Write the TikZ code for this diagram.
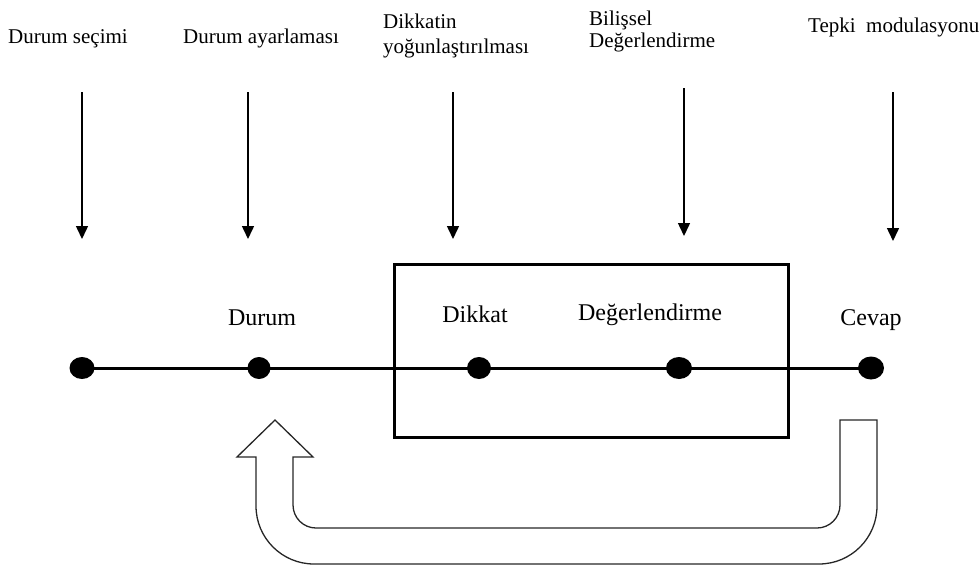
\documentclass[tikz,border=0pt]{standalone}
\usepackage{fontspec}
\setmainfont{Liberation Serif}
\usetikzlibrary{arrows.meta,shapes.geometric,backgrounds}

\tikzset{
  toplabel/.style={inner sep=0pt, font=\fontsize{21}{25}\selectfont, align=left},
  stagelabel/.style={inner sep=0pt, font=\fontsize{24}{28}\selectfont},
  dot/.style={ellipse, fill=black, inner sep=0pt, minimum width=25pt, minimum height=22pt},
  feed/.style={-{Triangle[width=12pt,length=13pt]}, line width=1.5pt},
  axis/.style={line width=3pt},
  frame/.style={line width=3.2pt},
  bigarrow/.style={line width=1.3pt, draw=black!85, line join=miter}
}

\begin{document}
\begin{tikzpicture}[x=1pt, y=-1pt]
  \useasboundingbox (0,0) rectangle (979,565);

  % strategy labels along the top
  \node[toplabel, anchor=base west] (l1) at (8,43) {Durum seçimi};
  \node[toplabel, anchor=base west] (l2) at (183,43) {Durum ayarlaması};
  \node[toplabel, anchor=base west] (l3a) at (383,28) {Dikkatin};
  \node[toplabel, anchor=base west] (l3b) at (383,53) {yoğunlaştırılması};
  \node[toplabel, anchor=base west] (l4a) at (589,25) {Bilişsel};
  \node[toplabel, anchor=base west] (l4b) at (589,47) {Değerlendirme};
  \node[toplabel, anchor=base west] (l5) at (808,32) {Tepki\ \ modulasyonu};

  % arrow ends
  \coordinate (a1s) at (82,92);  \coordinate (a1e) at (82,239);
  \coordinate (a2s) at (248,92); \coordinate (a2e) at (248,239);
  \coordinate (a3s) at (453,92); \coordinate (a3e) at (453,239);
  \coordinate (a4s) at (684,88); \coordinate (a4e) at (684,236);
  \coordinate (a5s) at (893,92); \coordinate (a5e) at (893,241);
  \foreach \i in {1,...,5} \draw[feed] (a\i s) -- (a\i e);

  % box around attention and appraisal
  \node[draw, frame, minimum width=394pt, minimum height=173pt, inner sep=0pt, anchor=north west] (box) at (393,263) {};

  % stage points on the timeline
  \node[dot] (d1) at (82,368) {};
  \node[dot, minimum width=23pt] (d2) at (259,368) {};
  \node[dot, minimum width=24pt] (d3) at (479,368) {};
  \node[dot, minimum width=26pt] (d4) at (679,368) {};
  \node[dot, minimum width=26pt, minimum height=23pt] (d5) at (871,368) {};
  \begin{scope}[on background layer]
    \draw[axis] (d1.center) -- (d5.center);
  \end{scope}

  % stage names
  \node[stagelabel, anchor=base] (s2) at (262,325) {Durum};
  \node[stagelabel, anchor=base] (s3) at (475,322) {Dikkat};
  \node[stagelabel, anchor=base] (s4) at (650,320) {Değerlendirme};
  \node[stagelabel, anchor=base] (s5) at (871,325) {Cevap};

  % feedback arrow from response back to situation
  \draw[bigarrow]
    (840,420) -- (877,420) -- (877,506)
    arc[start angle=0, end angle=90, radius=58] -- (314,564)
    arc[start angle=90, end angle=180, radius=58] -- (256,457)
    -- (237,457) -- (275,420) -- (313,457) -- (293,457) -- (293,505)
    arc[start angle=180, end angle=90, radius=23] -- (817,528)
    arc[start angle=90, end angle=0, radius=23] -- cycle;
\end{tikzpicture}
\end{document}
